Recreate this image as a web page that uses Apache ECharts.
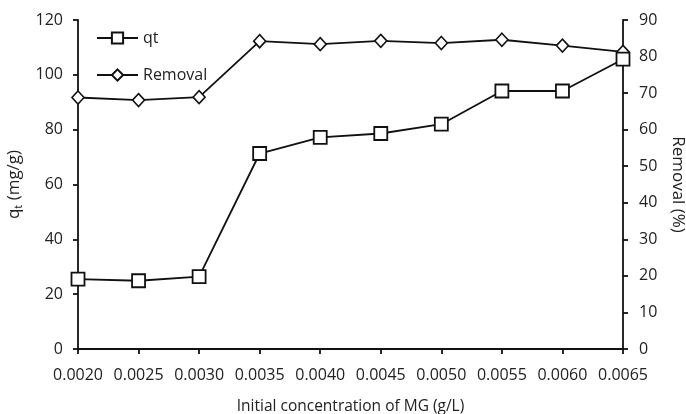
<!DOCTYPE html>
<html>
<head>
<meta charset="utf-8">
<script src="https://cdn.jsdelivr.net/npm/echarts@6/dist/echarts.min.js"></script>
<style>html,body{margin:0;padding:0;background:#fff}#c{width:686px;height:414px}</style>
</head>
<body>
<div id="c"></div>
<script>
var concentrations = [0.0020, 0.0025, 0.0030, 0.0035, 0.0040, 0.0045, 0.0050, 0.0055, 0.0060, 0.0065];
var qtValues = [25.5, 24.9, 26.4, 71.3, 77.2, 78.6, 82.0, 94.1, 94.1, 105.7];
var removalValues = [68.8, 68.1, 68.9, 84.2, 83.4, 84.3, 83.7, 84.6, 83.0, 81.3];
var seriesNames = ['qt', 'Removal'];
var xTitle = 'Initial concentration of MG (g/L)';
var yLeftTitle = 'q{sub|t} (mg/g)';
var yRightTitle = 'Removal (%)';

function pairs(xs, ys) { return xs.map(function (x, i) { return [x, ys[i]]; }); }

var FONT = 'Open Sans';
var TXT = '#222';
var chart = echarts.init(document.getElementById('c'), null, {renderer: 'canvas'});
var axisLineStyle = {color: '#111', width: 1.8};
chart.setOption({
  animation: false,
  backgroundColor: '#fff',
  textStyle: {fontFamily: FONT, color: TXT},
  grid: {left: 78, right: 63, top: 20, bottom: 65, containLabel: false, outerBoundsMode: 'none'},
  legend: {
    orient: 'vertical', left: 91, top: 25, itemWidth: 41, itemHeight: 14, itemGap: 21,
    textStyle: {fontFamily: FONT, fontSize: 16, color: TXT, padding: [0, 0, 0, 0]},
    data: seriesNames
  },
  xAxis: {
    type: 'value', min: 0.002, max: 0.0065, interval: 0.0005,
    name: xTitle, nameLocation: 'middle', nameGap: 50,
    nameTextStyle: {fontFamily: FONT, fontSize: 15.5, color: TXT},
    axisLine: {lineStyle: axisLineStyle},
    axisTick: {show: true, inside: false, length: 5, lineStyle: axisLineStyle},
    axisLabel: {fontFamily: FONT, fontSize: 16, color: TXT, margin: 18,
      formatter: function (v) { return v.toFixed(4); }},
    splitLine: {show: false}
  },
  yAxis: [{
    type: 'value', min: 0, max: 120, interval: 20, position: 'left',
    name: yLeftTitle, nameLocation: 'middle', nameGap: 54,
    nameTextStyle: {fontFamily: FONT, fontSize: 17, color: TXT,
      rich: {sub: {fontFamily: FONT, fontSize: 11, color: TXT, verticalAlign: 'bottom', padding: [8, 0, 0, 0]}}},
    axisLine: {show: true, lineStyle: axisLineStyle},
    axisTick: {show: true, length: 5, lineStyle: axisLineStyle},
    axisLabel: {fontFamily: FONT, fontSize: 16, color: TXT, margin: 15},
    splitLine: {show: false}
  }, {
    type: 'value', min: 0, max: 90, interval: 10, position: 'right',
    name: yRightTitle, nameLocation: 'middle', nameGap: 46, nameRotate: -90,
    nameTextStyle: {fontFamily: FONT, fontSize: 17, color: TXT},
    axisLine: {show: true, lineStyle: axisLineStyle},
    axisTick: {show: true, length: 5, lineStyle: axisLineStyle},
    axisLabel: {fontFamily: FONT, fontSize: 16, color: TXT, margin: 16},
    splitLine: {show: false}
  }],
  series: [{
    name: seriesNames[0], type: 'line', yAxisIndex: 0,
    data: pairs(concentrations, qtValues),
    symbol: 'rect', symbolSize: 13,
    lineStyle: {color: '#111', width: 1.8},
    itemStyle: {color: '#fff', borderColor: '#111', borderWidth: 1.8},
    z: 3
  }, {
    name: seriesNames[1], type: 'line', yAxisIndex: 1,
    data: pairs(concentrations, removalValues),
    symbol: 'diamond', symbolSize: [12, 13],
    lineStyle: {color: '#111', width: 1.8},
    itemStyle: {color: '#fff', borderColor: '#111', borderWidth: 1.6},
    z: 2
  }]
});
</script>
</body>
</html>
